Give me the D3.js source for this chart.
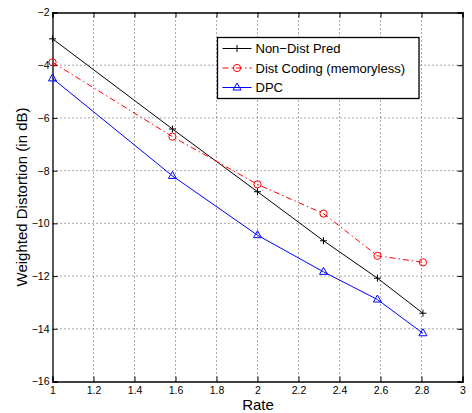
<!DOCTYPE html>
<html lang="en">
<head>
<meta charset="UTF-8">
<title>Weighted Distortion vs Rate</title>
<style>
body { margin: 0; background: #fff; }
svg text { font-family: "Liberation Sans", Arial, sans-serif; fill: #000; }
</style>
</head>
<body>
<svg></svg>
<script src="https://d3js.org/d3.v7.min.js"></script>
<script>

// data
var rates = [1, 1.585, 2, 2.322, 2.585, 2.807];
var nonDistPred = [-3.0, -6.42, -8.80, -10.66, -12.08, -13.41];
var distCoding = [-3.89, -6.71, -8.52, -9.63, -11.23, -11.48];
var dpc = [-4.50, -8.20, -10.45, -11.84, -12.89, -14.17];

var seriesNames = ["Non\u2212Dist Pred", "Dist Coding (memoryless)", "DPC"];
var xTicks = [1, 1.2, 1.4, 1.6, 1.8, 2, 2.2, 2.4, 2.6, 2.8, 3];
var yTicks = [-2, -4, -6, -8, -10, -12, -14, -16];

var svgWidth = 472, svgHeight = 413;
var margin = { top: 12.5, right: 9.5, bottom: 31.5, left: 52.5 };
var width = svgWidth - margin.left - margin.right;
var height = svgHeight - margin.top - margin.bottom;

var svg = d3.select("svg")
    .attr("width", svgWidth)
    .attr("height", svgHeight);

var g = svg.append("g")
    .attr("transform", "translate(" + margin.left + "," + margin.top + ")");

var x = d3.scaleLinear().domain([1, 3]).range([0, width]);
var y = d3.scaleLinear().domain([-16, -2]).range([height, 0]);

var fmt = function(d) { return d3.format("")(d).replace("-", "\u2212"); };

// grid
g.append("g").selectAll("line")
    .data(xTicks.slice(1, -1))
    .enter().append("line")
    .attr("x1", function(d) { return x(d); })
    .attr("x2", function(d) { return x(d); })
    .attr("y1", 0).attr("y2", height)
    .attr("stroke", "#555").attr("stroke-width", 1)
    .attr("stroke-dasharray", "1,3");

g.append("g").selectAll("line")
    .data(yTicks.slice(1, -1))
    .enter().append("line")
    .attr("y1", function(d) { return y(d); })
    .attr("y2", function(d) { return y(d); })
    .attr("x1", 0).attr("x2", width)
    .attr("stroke", "#555").attr("stroke-width", 1)
    .attr("stroke-dasharray", "1,3");

// axes, matlab style: ticks inward on all four sides
var xb = g.append("g")
    .attr("transform", "translate(0," + height + ")")
    .call(d3.axisBottom(x).tickValues(xTicks).tickSize(-5).tickPadding(5).tickFormat(fmt));
var yl = g.append("g")
    .call(d3.axisLeft(y).tickValues(yTicks).tickSize(-5).tickPadding(3).tickFormat(fmt));
var xt = g.append("g")
    .call(d3.axisTop(x).tickValues(xTicks).tickSize(-5).tickFormat(""));
var yr = g.append("g")
    .attr("transform", "translate(" + width + ",0)")
    .call(d3.axisRight(y).tickValues(yTicks).tickSize(-5).tickFormat(""));

[xb, yl, xt, yr].forEach(function(a) {
    a.select(".domain").attr("stroke-width", 1.3);
    a.selectAll("text").attr("font-size", 10.5).attr("font-family", "Liberation Sans, Arial, sans-serif");
});

// lines
var series = [
    { name: seriesNames[0], values: nonDistPred, color: "#000", dash: null, marker: "plus" },
    { name: seriesNames[1], values: distCoding, color: "#ff0000", dash: "6,3,1.5,3", marker: "circle" },
    { name: seriesNames[2], values: dpc, color: "#0000ff", dash: null, marker: "triangle" }
];

var line = d3.line()
    .x(function(d, i) { return x(rates[i]); })
    .y(function(d) { return y(d); });

function drawMarker(sel, type, color) {
    if (type === "plus") {
        sel.append("path").attr("d", "M-3.5,0H3.5M0,-3.5V3.5")
            .attr("stroke", color).attr("stroke-width", 1).attr("fill", "none");
    } else if (type === "circle") {
        sel.append("circle").attr("r", 3.6)
            .attr("stroke", color).attr("stroke-width", 1).attr("fill", "none");
    } else {
        sel.append("path").attr("d", "M0,-4.5L4,2.5L-4,2.5Z")
            .attr("stroke", color).attr("stroke-width", 1).attr("fill", "none");
    }
}

series.forEach(function(s) {
    g.append("path")
        .datum(s.values)
        .attr("fill", "none")
        .attr("stroke", s.color)
        .attr("stroke-width", 1)
        .attr("stroke-dasharray", s.dash)
        .attr("d", line);
    g.append("g").selectAll("g")
        .data(s.values)
        .enter().append("g")
        .attr("transform", function(d, i) { return "translate(" + x(rates[i]) + "," + y(d) + ")"; })
        .each(function() { drawMarker(d3.select(this), s.marker, s.color); });
});

// legend
var lg = svg.append("g").attr("transform", "translate(217.5,37.5)");
lg.append("rect").attr("width", 201.5).attr("height", 61)
    .attr("fill", "#fff").attr("stroke", "#000").attr("stroke-width", 1.3);
series.forEach(function(s, i) {
    var row = lg.append("g").attr("transform", "translate(0," + (11 + i * 19.5) + ")");
    row.append("line").attr("x1", 5).attr("x2", 34).attr("y1", 0).attr("y2", 0)
        .attr("stroke", s.color).attr("stroke-width", 1).attr("stroke-dasharray", s.dash);
    drawMarker(row.append("g").attr("transform", "translate(19.5,0)"), s.marker, s.color);
    row.append("text").attr("x", 38).attr("y", 4.5).attr("font-size", 13).text(s.name);
});

// axis labels
svg.append("text")
    .attr("x", margin.left + width / 2 + 0.5).attr("y", 410)
    .attr("text-anchor", "middle").attr("font-size", 15)
    .text("Rate");

svg.append("text")
    .attr("transform", "translate(27," + (margin.top + height / 2) + ") rotate(-90)")
    .attr("text-anchor", "middle").attr("font-size", 15)
    .text("Weighted Distortion (in dB)");

</script>
</body>
</html>
